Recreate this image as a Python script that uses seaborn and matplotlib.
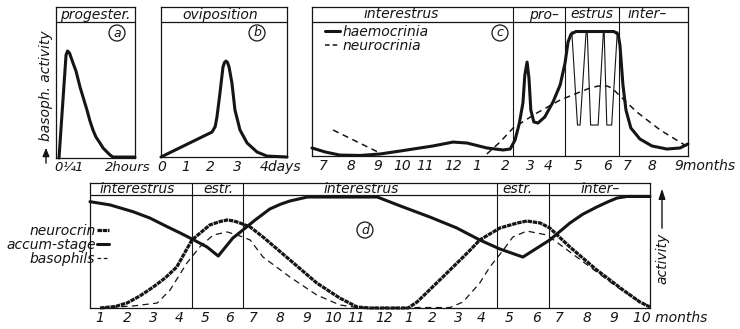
import numpy as np
import pandas as pd
import matplotlib
matplotlib.use("Agg")
import matplotlib.pyplot as plt
import seaborn as sns
from matplotlib.lines import Line2D

sns.set_style("white")
plt.rcParams['font.family'] = ['DejaVu Sans']
INK = '#151515'

# ---------------- data (x: % of panel width, y: % of plot height) ----------------
# panel a – progesterone
a_x = [3.8, 12.7, 14.6, 17.1, 21.5, 25.3, 30.4, 34.2, 39.2, 43.0, 46.8, 50.6, 55.7,
       59.5, 64.6, 68.4, 72.2, 78.5, 100]
a_y = [0.0, 75.7, 78.7, 77.2, 69.9, 64.0, 52.2, 44.9, 35.3, 27.2, 20.6, 15.4, 11.0,
       7.4, 4.4, 2.2, 0.7, 0.7, 0.7]
a_tick_pos = [3.5, 15.8, 28.5, 62.0]
a_tick_lab = ['0', '¼', '1', '2hours']

# panel b – oviposition
b_x = [0, 40.5, 43.0, 44.4, 46.8, 49.2, 50.4, 51.6, 52.8, 54.0, 56.3, 58.7, 62.7,
       68.3, 76.2, 84.1, 100]
b_y = [0, 18.5, 22.5, 29.6, 47.4, 66.7, 70.0, 71.1, 70.0, 66.7, 54.8, 34.8, 20.0,
       10.4, 3.7, 0.7, 0]
b_tick_pos = [0.8, 19.8, 38.9, 60.3, 78.6]
b_tick_lab = ['0', '1', '2', '3', '4days']

# panel c – haemocrinia / neurocrinia
c_haem_x = [0, 3.5, 7.4, 12.8, 18.1, 23.4, 32.2, 37.5, 41.2, 46.5, 50.8, 52.7, 54.0,
            55.1, 56.1, 56.6, 57.2, 57.7, 58.2, 59.0, 60.1, 61.9, 64.1, 66.0, 67.3,
            68.1, 68.9, 70.2, 80.3, 81.4, 81.9, 82.7, 83.5, 84.8, 87.2, 90.4, 94.4,
            97.9, 100]
c_haem_y = [6.0, 3.0, 0.7, 0.4, 1.5, 3.7, 7.5, 10.4, 9.7, 6.0, 4.5, 5.2, 11.9,
            23.9, 39.6, 60.4, 70.1, 58.2, 34.3, 25.4, 24.6, 29.1, 40.3, 53.0, 69.4,
            85.1, 91.0, 92.9, 92.9, 91.0, 82.8, 53.0, 34.3, 20.9, 12.7, 7.5, 5.2,
            6.0, 9.0]
c_osc_x = [69.1, 70.6, 71.3, 72.9, 73.2, 74.1, 76.1, 77.5, 77.7, 78.4, 79.7, 81.2]
c_osc_y = [92.8, 23.1, 23.1, 92.8, 92.8, 23.1, 23.1, 92.8, 92.8, 23.1, 23.1, 92.8]
c_neu1_x = [5.6, 18.6]
c_neu1_y = [19.4, 1.5]
c_neu2_x = [46.5, 50.0, 53.5, 59.8, 66.0, 71.3, 73.9, 76.1, 78.5, 79.8, 81.9, 86.4, 92.6, 100]
c_neu2_y = [1.5, 10.4, 20.9, 32.1, 41.8, 47.8, 50.7, 52.2, 52.2, 50.7, 44.8, 32.8, 19.4, 6.7]
c_phase_x = [53.5, 67.3, 81.6]
c_tick_pos = [2.9, 10.4, 17.6, 23.9, 30.1, 37.5, 43.9, 51.3, 58.0, 62.8, 70.7, 78.5,
              83.8, 90.4, 96.3]
c_tick_lab = ['7', '8', '9', '10', '11', '12', '1', '2', '3', '4', '5', '6', '7', '8',
              '9months']
c_head_x = [23.7, 61.7, 74.5, 89.1]
c_head_lab = ['interestrus', 'pro–', 'estrus', 'inter–']

# panel d – yearly cycle
d_acc_x = [0, 3.6, 7.7, 10.7, 13.8, 16.1, 18.2, 20.9, 22.9, 25.5, 27.3, 29.5, 32.1,
           34.0, 35.7, 38.8, 51.3, 53.6, 55.9, 60.7, 65.5, 69.6, 73.2, 77.3, 82.1,
           85.7, 88.0, 90.5, 92.5, 94.1, 95.9, 100]
d_acc_y = [94.1, 91.2, 85.2, 79.6, 71.9, 66.4, 61.1, 54.0, 46.0, 61.9, 69.0, 77.9,
           87.6, 91.8, 94.7, 98.2, 98.2, 93.8, 89.4, 80.5, 70.8, 60.2, 52.2, 45.1,
           60.2, 75.2, 83.0, 89.4, 94.0, 97.3, 98.7, 98.7]
d_neu_x = [1.8, 4.5, 6.6, 8.9, 11.3, 13.4, 15.5, 18.2, 21.4, 23.2, 24.5, 25.7, 26.8,
           28.6, 30.9, 35.7, 40.5, 44.6, 47.7, 50.0, 56.8, 58.4, 63.0, 67.9, 69.6,
           73.2, 76.3, 78.0, 80.4, 82.1, 85.7, 90.5, 95.2, 98.2, 100]
d_neu_y = [0, 1.3, 4.4, 10.6, 18.6, 26.5, 36.3, 60.2, 73.5, 76.5, 77.9, 77.0, 75.2,
           71.7, 62.8, 42.5, 22.1, 8.8, 0.9, 0, 0, 5.3, 27.4, 51.3, 60.2, 70.8,
           75.2, 77.0, 75.2, 70.8, 54.0, 33.6, 15.9, 5.3, 0.9]
d_bas_x = [1.8, 7.7, 12.0, 14.3, 17.3, 19.6, 22.0, 24.5, 26.8, 28.6, 30.9, 35.7,
           40.5, 44.6, 47.7, 64.3, 66.6, 69.6, 71.4, 73.8, 75.5, 78.0, 81.6, 84.5,
           89.3, 94.1, 97.7, 100]
d_bas_y = [0, 1.8, 4.4, 15.9, 39.8, 54.0, 64.6, 67.3, 63.7, 60.2, 45.1, 27.4,
           11.5, 2.7, 0.4, 0.4, 5.3, 22.1, 36.3, 51.3, 62.8, 68.1, 64.6, 54.0,
           36.3, 18.6, 7.1, 0.9]
d_phase_x = [18.2, 27.3, 72.7, 82.0]
d_tick_pos = [1.8, 6.6, 11.3, 15.9, 20.5, 25.0, 29.1, 33.9, 38.8, 43.4, 47.5, 52.5,
              57.0, 61.1, 65.7, 69.8, 74.8, 79.8, 83.8, 88.8, 93.6, 97.0]
d_tick_lab = ['1', '2', '3', '4', '5', '6', '7', '8', '9', '10', '11', '12',
              '1', '2', '3', '4', '5', '6', '7', '8', '9', '10 months']
d_head_x = [8.4, 22.9, 48.4, 76.4, 91.1]
d_head_lab = ['interestrus', 'estr.', 'interestrus', 'estr.', 'inter–']

# ---------------- figure ----------------
W, H = 740, 329
fig = plt.figure(figsize=(W / 100, H / 100), dpi=100)
fig.patch.set_facecolor('white')


def panel(left, right, top, head, bottom):
    ax = fig.add_axes([left / W, 1 - bottom / H, (right - left) / W, (bottom - top) / H])
    ytop = 100 * (bottom - top) / (bottom - head)
    ax.set_xlim(0, 100)
    ax.set_ylim(0, ytop)
    ax.set_yticks([])
    for s in ax.spines.values():
        s.set_linewidth(0.9)
        s.set_color(INK)
    ax.axhline(100, color=INK, lw=0.9)
    ax.tick_params(axis='x', length=0, pad=2.5, labelsize=10, labelcolor=INK)
    return ax, (100 + ytop) / 2


def curve(ax, x, y, lw=2.2, ls='-', zorder=3):
    df = pd.DataFrame({'x': x, 'y': y})
    sns.lineplot(data=df, x='x', y='y', ax=ax, color=INK, lw=lw, linestyle=ls,
                 sort=False, estimator=None, legend=False, zorder=zorder)
    ln = ax.lines[-1]
    ln.set_clip_on(False)
    ln.set_solid_joinstyle('round')
    ax.set_xlabel('')
    ax.set_ylabel('')


def ticks(ax, pos, lab, left_last=True, size=10):
    ax.set_xticks(pos)
    ax.set_xticklabels(lab)
    for t in ax.get_xticklabels():
        t.set_fontstyle('italic')
        t.set_fontsize(size)
    if left_last:
        ax.get_xticklabels()[-1].set_ha('left')


def circ(ax, x, y, s):
    ax.text(x, y, s, ha='center', va='center', fontsize=9, style='italic', color=INK,
            bbox=dict(boxstyle='circle,pad=0.12', fc='white', ec=INK, lw=0.9))


# panel a
axa, hy = panel(56, 135, 7, 22, 158)
curve(axa, a_x, a_y)
ticks(axa, a_tick_pos, a_tick_lab, size=9.5)
axa.text(50, hy, 'progester.', ha='center', va='center', fontsize=10, style='italic', color=INK)
circ(axa, 77.2, 91.9, 'a')

# panel b
axb, hy = panel(161, 287, 7, 22, 157)
curve(axb, b_x, b_y)
ticks(axb, b_tick_pos, b_tick_lab)
axb.text(47, hy, 'oviposition', ha='center', va='center', fontsize=10, style='italic', color=INK)
circ(axb, 76.2, 91.9, 'b')

# panel c
axc, hy = panel(312, 688, 7, 22, 156)
curve(axc, c_osc_x, c_osc_y, lw=0.8, zorder=2)
curve(axc, c_neu1_x, c_neu1_y, lw=1.1, ls=(0, (4, 3)))
curve(axc, c_neu2_x, c_neu2_y, lw=1.1, ls=(0, (4, 3)))
curve(axc, c_haem_x, c_haem_y)
for xv in c_phase_x:
    axc.axvline(xv, color=INK, lw=0.8)
ticks(axc, c_tick_pos, c_tick_lab)
for xh, lab in zip(c_head_x, c_head_lab):
    axc.text(xh, hy, lab, ha='center', va='center', fontsize=10, style='italic', color=INK)
circ(axc, 50.0, 91.8, 'c')
hc = [Line2D([], [], color=INK, lw=2.2), Line2D([], [], color=INK, lw=1.1, ls=(0, (3, 2)))]
axc.legend(hc, ['haemocrinia', 'neurocrinia'], loc='upper left',
           bbox_to_anchor=((325 - 312) / 376, (156 - 25) / 149), frameon=False,
           borderpad=0, borderaxespad=0, handlelength=1.1, handletextpad=0.15,
           labelspacing=0.0, prop=dict(size=10, style='italic'), labelcolor=INK)

# panel d
axd, hy = panel(90, 650, 183, 195, 308)
curve(axd, d_bas_x, d_bas_y, lw=0.9, ls=(0, (5, 3.5)))
curve(axd, d_neu_x, d_neu_y, lw=2.3, ls=(0, (1.4, 0.25)))
curve(axd, d_acc_x, d_acc_y, lw=2.2)
for xv in d_phase_x:
    axd.axvline(xv, color=INK, lw=0.8)
ticks(axd, d_tick_pos, d_tick_lab)
mids = [(p + q) / 2 for p, q in zip(d_tick_pos[:-1], d_tick_pos[1:])]
axd.set_xticks(mids, minor=True)
axd.tick_params(axis='x', which='minor', direction='in', length=3, width=0.8, color=INK)
for xh, lab in zip(d_head_x, d_head_lab):
    axd.text(xh, hy, lab, ha='center', va='center', fontsize=10, style='italic', color=INK)
circ(axd, 49.1, 69.0, 'd')
hd = [Line2D([], [], color=INK, lw=2.3, ls=(0, (1.4, 0.25))),
      Line2D([], [], color=INK, lw=2.2),
      Line2D([], [], color=INK, lw=0.9, ls=(0, (3, 2)))]
fig.legend(hd, ['neurocrin', 'accum-stage', 'basophils'], loc='upper left',
           bbox_to_anchor=(6 / W, 1 - 224 / H), bbox_transform=fig.transFigure,
           frameon=False, borderpad=0, borderaxespad=0, markerfirst=False,
           handlelength=0.9, handletextpad=0.1, labelspacing=0.0,
           prop=dict(size=10, style='italic'), labelcolor=INK)

# overlay for axis captions with arrows
ov = fig.add_axes([0, 0, 1, 1])
ov.set_xlim(0, W)
ov.set_ylim(H, 0)
ov.axis('off')
ov.patch.set_alpha(0)
ov.text(46, 86, 'basoph. activity', rotation=90, ha='center', va='center',
        fontsize=10, style='italic', color=INK)
ov.annotate('', xy=(46, 145), xytext=(46, 166),
            arrowprops=dict(arrowstyle='-|>,head_length=0.5,head_width=0.2', lw=1, color=INK))
ov.text(662, 258, 'activity', rotation=90, ha='center', va='center',
        fontsize=10, style='italic', color=INK)
ov.annotate('', xy=(662, 186), xytext=(662, 231),
            arrowprops=dict(arrowstyle='-|>,head_length=0.6,head_width=0.2', lw=1, color=INK))

fig.savefig('out.png', dpi=100, facecolor='white')
